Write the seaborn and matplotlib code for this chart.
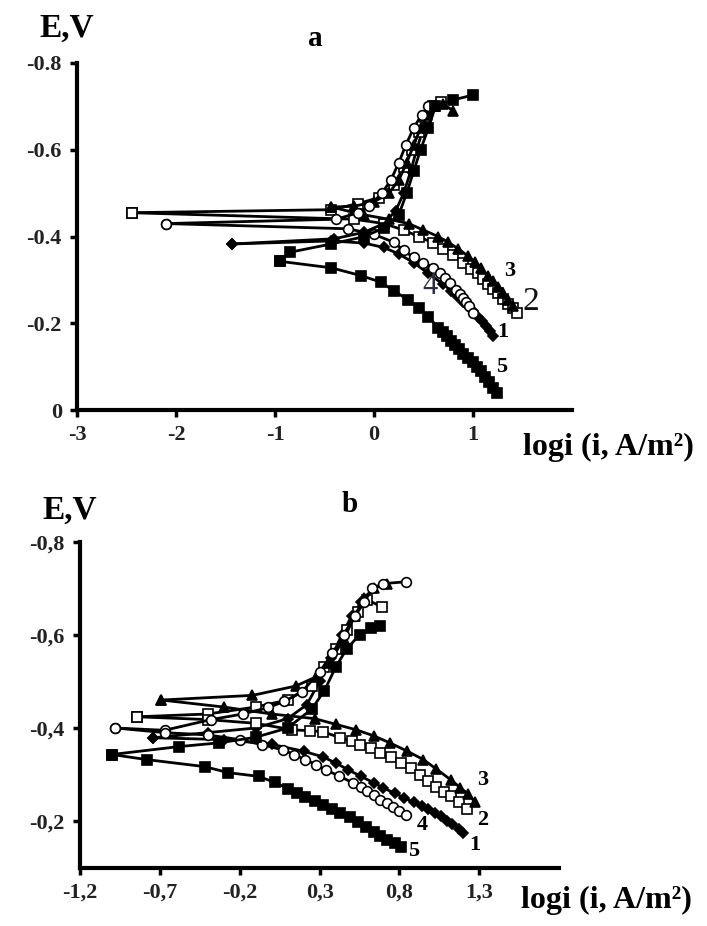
import matplotlib
matplotlib.use("Agg")
import matplotlib.pyplot as plt
import seaborn as sns
import pandas as pd

sns.set_theme(style="white")
plt.rcParams['font.family'] = ['Liberation Serif', 'DejaVu Serif']
plt.rcParams['font.weight'] = 'bold'

# ---------------- Panel a data (logi, E) ----------------
a1_cat_x = [-1.43, -0.40, -0.10, 0.10, 0.22, 0.30, 0.37, 0.43, 0.50, 0.57, 0.62]
a1_cat_e = [-0.383, -0.395, -0.41, -0.43, -0.46, -0.50, -0.55, -0.60, -0.65, -0.69, -0.70]
a1_an_x = [-1.43, -0.43, -0.10, 0.10, 0.25, 0.40, 0.55, 0.70, 0.78, 0.84, 0.90, 0.95, 1.00, 1.05, 1.09, 1.13, 1.17, 1.20]
a1_an_e = [-0.383, -0.39, -0.385, -0.375, -0.36, -0.34, -0.315, -0.29, -0.275, -0.262, -0.25, -0.24, -0.228, -0.215, -0.205, -0.195, -0.183, -0.17]

a2_cat_x = [-2.45, -0.43, -0.16, 0.05, 0.20, 0.30, 0.38, 0.45, 0.52, 0.60, 0.68]
a2_cat_e = [-0.455, -0.462, -0.476, -0.49, -0.52, -0.56, -0.60, -0.64, -0.675, -0.70, -0.71]
a2_an_x = [-2.45, -0.20, 0.10, 0.30, 0.45, 0.60, 0.70, 0.80, 0.90, 0.98, 1.05, 1.10, 1.15, 1.20, 1.25, 1.30, 1.35, 1.40, 1.44]
a2_an_e = [-0.455, -0.44, -0.43, -0.415, -0.40, -0.385, -0.372, -0.358, -0.34, -0.326, -0.315, -0.302, -0.29, -0.28, -0.27, -0.257, -0.245, -0.235, -0.225]

a3_cat_x = [-0.43, -0.20, 0.00, 0.15, 0.25, 0.33, 0.40, 0.47, 0.54, 0.62, 0.70, 0.80]
a3_cat_e = [-0.468, -0.47, -0.48, -0.50, -0.53, -0.57, -0.61, -0.65, -0.68, -0.70, -0.705, -0.69]
a3_an_x = [-0.43, -0.10, 0.15, 0.35, 0.50, 0.65, 0.75, 0.85, 0.95, 1.02, 1.08, 1.15, 1.20, 1.25, 1.30, 1.35, 1.40]
a3_an_e = [-0.468, -0.45, -0.44, -0.43, -0.415, -0.40, -0.387, -0.372, -0.355, -0.342, -0.328, -0.31, -0.298, -0.285, -0.27, -0.255, -0.24]

a4_cat_x = [-2.10, -0.38, -0.16, -0.05, 0.08, 0.17, 0.25, 0.32, 0.40, 0.48, 0.55]
a4_cat_e = [-0.43, -0.44, -0.455, -0.47, -0.50, -0.53, -0.57, -0.61, -0.65, -0.68, -0.70]
a4_an_x = [-2.10, -0.26, 0.00, 0.20, 0.30, 0.40, 0.50, 0.60, 0.67, 0.72, 0.77, 0.83, 0.87, 0.90, 0.93, 0.96, 1.00]
a4_an_e = [-0.43, -0.418, -0.405, -0.387, -0.368, -0.352, -0.34, -0.328, -0.316, -0.305, -0.293, -0.278, -0.268, -0.258, -0.25, -0.24, -0.225]

a5_cat_x = [-0.95, -0.85, -0.43, -0.10, 0.10, 0.25, 0.33, 0.40, 0.47, 0.55, 0.62, 0.80, 1.00]
a5_cat_e = [-0.343, -0.364, -0.383, -0.40, -0.42, -0.45, -0.50, -0.55, -0.60, -0.65, -0.70, -0.715, -0.726]
a5_an_x = [-0.95, -0.43, -0.13, 0.07, 0.20, 0.34, 0.45, 0.55, 0.65, 0.70, 0.74, 0.78, 0.82, 0.86, 0.90, 0.95, 1.00, 1.04, 1.08, 1.12, 1.16, 1.20, 1.24]
a5_an_e = [-0.343, -0.328, -0.31, -0.295, -0.275, -0.255, -0.235, -0.215, -0.19, -0.18, -0.17, -0.16, -0.15, -0.14, -0.13, -0.12, -0.11, -0.10, -0.09, -0.077, -0.065, -0.052, -0.04]

# ---------------- Panel b data (logi, E) ----------------
b1_cat_x = [-0.74, -0.40, -0.10, 0.10, 0.22, 0.30, 0.37, 0.44, 0.50, 0.56]
b1_cat_e = [-0.379, -0.39, -0.40, -0.42, -0.45, -0.50, -0.55, -0.60, -0.64, -0.67]
b1_an_x = [-0.74, -0.30, 0.00, 0.20, 0.32, 0.40, 0.48, 0.56, 0.64, 0.70, 0.77, 0.83, 0.89, 0.94, 0.98, 1.02, 1.06, 1.10, 1.13, 1.17, 1.20]
b1_an_e = [-0.379, -0.375, -0.365, -0.35, -0.338, -0.325, -0.31, -0.296, -0.282, -0.271, -0.26, -0.25, -0.24, -0.232, -0.225, -0.218, -0.21, -0.201, -0.193, -0.184, -0.175]

b2_cat_x = [-0.84, -0.40, -0.10, 0.10, 0.25, 0.33, 0.40, 0.47, 0.54, 0.60, 0.69]
b2_cat_e = [-0.424, -0.43, -0.445, -0.46, -0.49, -0.53, -0.57, -0.61, -0.65, -0.675, -0.66]
b2_an_x = [-0.84, -0.40, -0.10, 0.13, 0.24, 0.32, 0.43, 0.50, 0.55, 0.62, 0.68, 0.75, 0.81, 0.87, 0.93, 0.98, 1.03, 1.08, 1.12, 1.17, 1.22]
b2_an_e = [-0.424, -0.418, -0.41, -0.396, -0.394, -0.392, -0.379, -0.371, -0.364, -0.356, -0.347, -0.337, -0.325, -0.313, -0.30, -0.287, -0.274, -0.263, -0.253, -0.24, -0.225]

b3_cat_x = [-0.69, -0.12, 0.15, 0.28, 0.36, 0.45, 0.52, 0.58, 0.64, 0.72]
b3_cat_e = [-0.46, -0.47, -0.49, -0.51, -0.54, -0.59, -0.64, -0.68, -0.70, -0.71]
b3_an_x = [-0.69, -0.30, 0.00, 0.27, 0.40, 0.53, 0.64, 0.74, 0.85, 0.95, 1.03, 1.12, 1.18, 1.23, 1.27]
b3_an_e = [-0.46, -0.445, -0.43, -0.42, -0.408, -0.396, -0.383, -0.368, -0.35, -0.332, -0.312, -0.289, -0.272, -0.258, -0.242]

b4_cat_x = [-0.98, -0.67, -0.38, -0.18, -0.02, 0.08, 0.19, 0.30, 0.38, 0.45, 0.52, 0.58, 0.63, 0.70, 0.84]
b4_cat_e = [-0.40, -0.395, -0.418, -0.43, -0.444, -0.457, -0.478, -0.52, -0.56, -0.60, -0.64, -0.67, -0.70, -0.71, -0.714]
b4_an_x = [-0.98, -0.67, -0.40, -0.20, -0.06, 0.07, 0.14, 0.21, 0.28, 0.34, 0.42, 0.51, 0.56, 0.60, 0.64, 0.68, 0.72, 0.76, 0.80, 0.84]
b4_an_e = [-0.40, -0.39, -0.385, -0.375, -0.364, -0.353, -0.343, -0.332, -0.321, -0.31, -0.297, -0.282, -0.273, -0.265, -0.256, -0.246, -0.238, -0.23, -0.222, -0.214]

b5_cat_x = [-1.00, -0.58, -0.33, -0.10, 0.10, 0.25, 0.33, 0.40, 0.47, 0.55, 0.62, 0.68]
b5_cat_e = [-0.343, -0.36, -0.368, -0.38, -0.40, -0.44, -0.48, -0.53, -0.57, -0.60, -0.615, -0.62]
b5_an_x = [-1.00, -0.78, -0.42, -0.27, -0.08, 0.02, 0.10, 0.16, 0.21, 0.27, 0.32, 0.38, 0.43, 0.49, 0.54, 0.59, 0.64, 0.68, 0.72, 0.77, 0.81]
b5_an_e = [-0.343, -0.332, -0.317, -0.304, -0.296, -0.283, -0.27, -0.26, -0.252, -0.243, -0.235, -0.226, -0.218, -0.208, -0.198, -0.188, -0.177, -0.169, -0.16, -0.152, -0.145]

curve_ids = ["1", "2", "3", "4", "5"]
markers = {"1": "D", "2": "s", "3": "^", "4": "o", "5": "s"}
faces = {"1": "black", "2": "white", "3": "black", "4": "white", "5": "black"}
msize = {"1": 5.5, "2": 7, "3": 6.5, "4": 7, "5": 7}

panel_a = {
    "1": [(a1_cat_x, a1_cat_e), (a1_an_x, a1_an_e)],
    "2": [(a2_cat_x, a2_cat_e), (a2_an_x, a2_an_e)],
    "3": [(a3_cat_x, a3_cat_e), (a3_an_x, a3_an_e)],
    "4": [(a4_cat_x, a4_cat_e), (a4_an_x, a4_an_e)],
    "5": [(a5_cat_x, a5_cat_e), (a5_an_x, a5_an_e)],
}
panel_b = {
    "1": [(b1_cat_x, b1_cat_e), (b1_an_x, b1_an_e)],
    "2": [(b2_cat_x, b2_cat_e), (b2_an_x, b2_an_e)],
    "3": [(b3_cat_x, b3_cat_e), (b3_an_x, b3_an_e)],
    "4": [(b4_cat_x, b4_cat_e), (b4_an_x, b4_an_e)],
    "5": [(b5_cat_x, b5_cat_e), (b5_an_x, b5_an_e)],
}

a_xticks = [-3, -2, -1, 0, 1]
a_xticklabels = ["-3", "-2", "-1", "0", "1"]
a_yticks = [-0.8, -0.6, -0.4, -0.2, 0]
a_yticklabels = ["-0.8", "-0.6", "-0.4", "-0.2", "0"]
b_xticks = [-1.2, -0.7, -0.2, 0.3, 0.8, 1.3]
b_xticklabels = ["-1,2", "-0,7", "-0,2", "0,3", "0,8", "1,3"]
b_yticks = [-0.8, -0.6, -0.4, -0.2]
b_yticklabels = ["-0,8", "-0,6", "-0,4", "-0,2"]

fig = plt.figure(figsize=(7.07, 9.26), dpi=100)
ax_a = fig.add_axes([0.109, 0.557, 0.700, 0.375])
ax_b = fig.add_axes([0.113, 0.063, 0.678, 0.352])

def draw(ax, data):
    rows = []
    for cid in curve_ids:
        for bi, (xs, es) in enumerate(data[cid]):
            for x, e in zip(xs, es):
                rows.append({"curve": cid, "branch": bi, "logi": x, "E": e})
    df = pd.DataFrame(rows)
    for cid in curve_ids:
        for bi in (0, 1):
            sub = df[(df.curve == cid) & (df.branch == bi)]
            sns.lineplot(data=sub, x="logi", y="E", sort=False, estimator=None,
                         ax=ax, color="black", lw=2.0, marker=markers[cid],
                         markersize=msize[cid], markerfacecolor=faces[cid],
                         markeredgecolor="black", markeredgewidth=1.2, zorder=3)

def style(ax, xlim, ylim, xt, xtl, yt, ytl):
    ax.set_xlim(*xlim)
    ax.set_ylim(*ylim)
    ax.set_xticks(xt)
    ax.set_xticklabels(xtl)
    ax.set_yticks(yt)
    ax.set_yticklabels(ytl)
    for s in ("top", "right"):
        ax.spines[s].set_visible(False)
    for s in ("left", "bottom"):
        ax.spines[s].set_linewidth(3)
        ax.spines[s].set_color("black")
    ax.tick_params(direction="out", length=5, width=2.5, color="black",
                   labelsize=16, labelcolor="#222222", pad=6, left=True, bottom=True)
    for lab in ax.get_xticklabels() + ax.get_yticklabels():
        lab.set_fontweight("bold")
    ax.set_xlabel("")
    ax.set_ylabel("")
    ax.set_facecolor("white")

draw(ax_a, panel_a)
draw(ax_b, panel_b)
style(ax_a, (-3, 2), (0, -0.8), a_xticks, a_xticklabels, a_yticks, a_yticklabels)
style(ax_b, (-1.2, 1.8), (-0.1, -0.8), b_xticks, b_xticklabels, b_yticks, b_yticklabels)

# curve labels
lab_kw = dict(fontsize=16, fontweight="bold", color="black", ha="center", va="center")
ax_a.text(1.37, -0.32, "3", **lab_kw)
ax_a.text(1.58, -0.25, "2", fontsize=24, fontweight="normal", color="#111111", ha="center", va="center")
ax_a.text(1.30, -0.18, "1", **lab_kw)
ax_a.text(1.29, -0.10, "5", **lab_kw)
ax_a.text(0.57, -0.285, "4", fontsize=22, fontweight="normal", color="#2a3040", ha="center", va="center")

ax_b.text(1.32, -0.289, "3", **lab_kw)
ax_b.text(1.32, -0.203, "2", **lab_kw)
ax_b.text(1.27, -0.149, "1", **lab_kw)
ax_b.text(0.94, -0.192, "4", **lab_kw)
ax_b.text(0.89, -0.136, "5", **lab_kw)

# axis titles
t_kw = dict(fontweight="bold", color="black", ha="center", va="center")
fig.text(67 / 707, 1 - 28 / 926, "E,V", fontsize=24, **t_kw)
fig.text(315 / 707, 1 - 38 / 926, "a", fontsize=21, **t_kw)
fig.text(608 / 707, 1 - 447 / 926, "logi (i, A/m²)", fontsize=23, **t_kw)

fig.text(70 / 707, 1 - 510 / 926, "E,V", fontsize=24, **t_kw)
fig.text(350 / 707, 1 - 505 / 926, "b", fontsize=21, **t_kw)
fig.text(606 / 707, 1 - 900 / 926, "logi (i, A/m²)", fontsize=23, **t_kw)

fig.savefig("out.png", dpi=100, facecolor="white")
